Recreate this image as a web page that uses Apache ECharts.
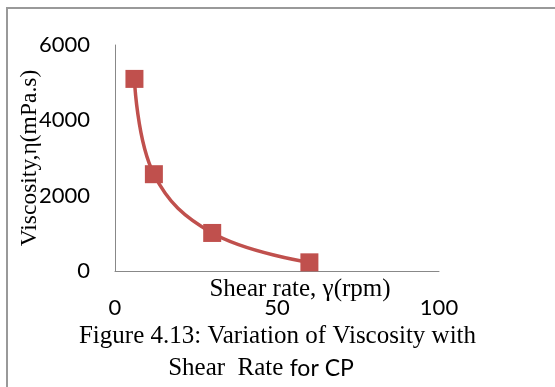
<!DOCTYPE html>
<html lang="en">
<head>
    <meta charset="UTF-8">
    <title>Viscosity vs Shear Rate</title>
    <script src="https://cdn.jsdelivr.net/npm/echarts@6/dist/echarts.min.js"></script>
    <style>
        html, body { margin: 0; padding: 0; background: #fff; }
        #chart { width: 555px; height: 387px; }
    </style>
</head>
<body>
    <div id="chart"></div>
    <script>
        // data
        var shearRate = [6, 12, 30, 60];
        var viscosity = [5100, 2570, 1010, 230];
        var xTicks = [0, 50, 100];
        var yTicks = [0, 2000, 4000, 6000];

        var points = shearRate.map(function (x, i) { return [x, viscosity[i]]; });

        var serif = '"Liberation Serif", "Times New Roman", serif';
        var sans = 'Lato, "Liberation Sans", sans-serif';

        var myChart = echarts.init(document.getElementById('chart'));
        var option = {
            animation: false,
            // caption, two lines
            title: [{
                left: 'center',
                top: 324,
                padding: 0,
                text: 'Figure 4.13: Variation of Viscosity with',
                textStyle: { fontFamily: serif, fontSize: 25, fontWeight: 'normal', color: '#000' }
            }, {
                left: 261,
                top: 356,
                padding: 0,
                textAlign: 'center',
                text: '{a|Shear  Rate }{b|for CP}',
                textStyle: {
                    fontWeight: 'normal',
                    rich: {
                        a: { fontFamily: serif, fontSize: 25, fontWeight: 'normal', color: '#000' },
                        b: { fontFamily: sans, fontSize: 23, fontWeight: 'normal', color: '#000' }
                    }
                }
            }],
            graphic: [
                { type: 'line', shape: { x1: 6, y1: 8, x2: 555, y2: 8 }, style: { stroke: '#999', lineWidth: 2 } },
                { type: 'line', shape: { x1: 7, y1: 7, x2: 7, y2: 387 }, style: { stroke: '#999', lineWidth: 2 } }
            ],
            grid: { left: 115, right: 116, top: 45, bottom: 116 },
            xAxis: {
                type: 'value',
                min: xTicks[0],
                max: xTicks[xTicks.length - 1],
                interval: 50,
                name: 'Shear rate, γ(rpm)',
                nameLocation: 'middle',
                nameGap: 6,
                nameMoveOverlap: false,
                nameTextStyle: {
                    fontFamily: serif, fontSize: 25, color: '#000',
                    verticalAlign: 'top',
                    padding: [0, 0, 0, 46]
                },
                axisLine: { lineStyle: { color: '#888', width: 1 } },
                axisTick: { show: false },
                splitLine: { show: false },
                axisLabel: {
                    fontFamily: sans, fontSize: 22, color: '#000', margin: 26,
                    formatter: function (v) { return String(v); }
                }
            },
            yAxis: {
                type: 'value',
                min: yTicks[0],
                max: yTicks[yTicks.length - 1],
                interval: 2000,
                name: 'Viscosity,η(mPa.s)',
                nameLocation: 'middle',
                nameGap: 73,
                nameMoveOverlap: false,
                nameTextStyle: { fontFamily: serif, fontSize: 23.5, color: '#000' },
                axisLine: { show: true, lineStyle: { color: '#888', width: 1 } },
                axisTick: { show: false },
                splitLine: { show: false },
                axisLabel: {
                    fontFamily: sans, fontSize: 22, color: '#000', margin: 25,
                    formatter: function (v) { return String(v); }
                }
            },
            series: [{
                type: 'line',
                data: points,
                smooth: 0.4,
                symbol: 'rect',
                symbolSize: 18,
                lineStyle: { color: '#C0504D', width: 3.5 },
                itemStyle: { color: '#C0504D' }
            }]
        };
        myChart.setOption(option);
    </script>
</body>
</html>
